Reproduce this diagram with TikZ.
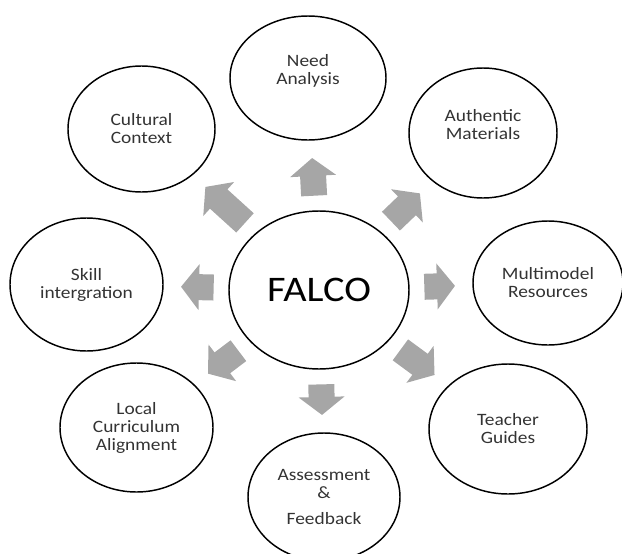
\documentclass[tikz,border=0pt]{standalone}
\usepackage{fontspec}
\setmainfont{Carlito}[FakeStretch=1.12]
\usetikzlibrary{arrows.meta, shapes.geometric}
\definecolor{arrgray}{HTML}{A6A6A6}

\begin{document}
\begin{tikzpicture}[x=0.75pt, y=-0.75pt,
  bubble/.style={ellipse, draw, line width=1.1pt, inner sep=0pt, align=center,
    text=black!80, font=\fontsize{13}{13.5}\selectfont},
  blockarr/.style={draw=arrgray, line width=19.5pt,
    -{Triangle[width=33.75pt, length=13.5pt]}, shorten <=11pt, shorten >=13pt}]
  \useasboundingbox (0,0) rectangle (622,554);
  % Mitte
  \node[bubble, minimum width=135pt, minimum height=118.5pt, text=black,
    font=\fontsize{27}{30}\selectfont] (falco) at (319,290) {FALCO};
  % Ring
  \node[bubble, minimum width=117pt, minimum height=93pt] (need) at (308,78) {Need\\Analysis\\ \mbox{}};
  \node[bubble, minimum width=111pt, minimum height=97.5pt] (auth) at (483,133) {Authentic\\Materials\\ \mbox{}};
  \node[bubble, minimum width=112.5pt, minimum height=93pt] (multi) at (548,283) {Multimodel\\Resources};
  \node[bubble, minimum width=118.5pt, minimum height=97.5pt] (teacher) at (508,429) {Teacher\\Guides};
  \node[bubble, minimum width=114pt, minimum height=96pt] (assess) at (324,497) {Assessment\\\&\\[6pt]Feedback};
  \node[bubble, minimum width=114.75pt, minimum height=96.75pt] (local) at (136.5,427.5) {Local\\Curriculum\\Alignment};
  \node[bubble, minimum width=114.75pt, minimum height=99.75pt] (skill) at (86.5,284.5) {Skill\\intergration};
  \node[bubble, minimum width=110.25pt, minimum height=94.5pt] (cult) at (141.5,129) {Cultural\\Context};
  % Pfeile
  \foreach \n in {need, auth, multi, teacher, assess, local, skill, cult}
    \draw[blockarr] (falco) -- (\n);
\end{tikzpicture}
\end{document}
